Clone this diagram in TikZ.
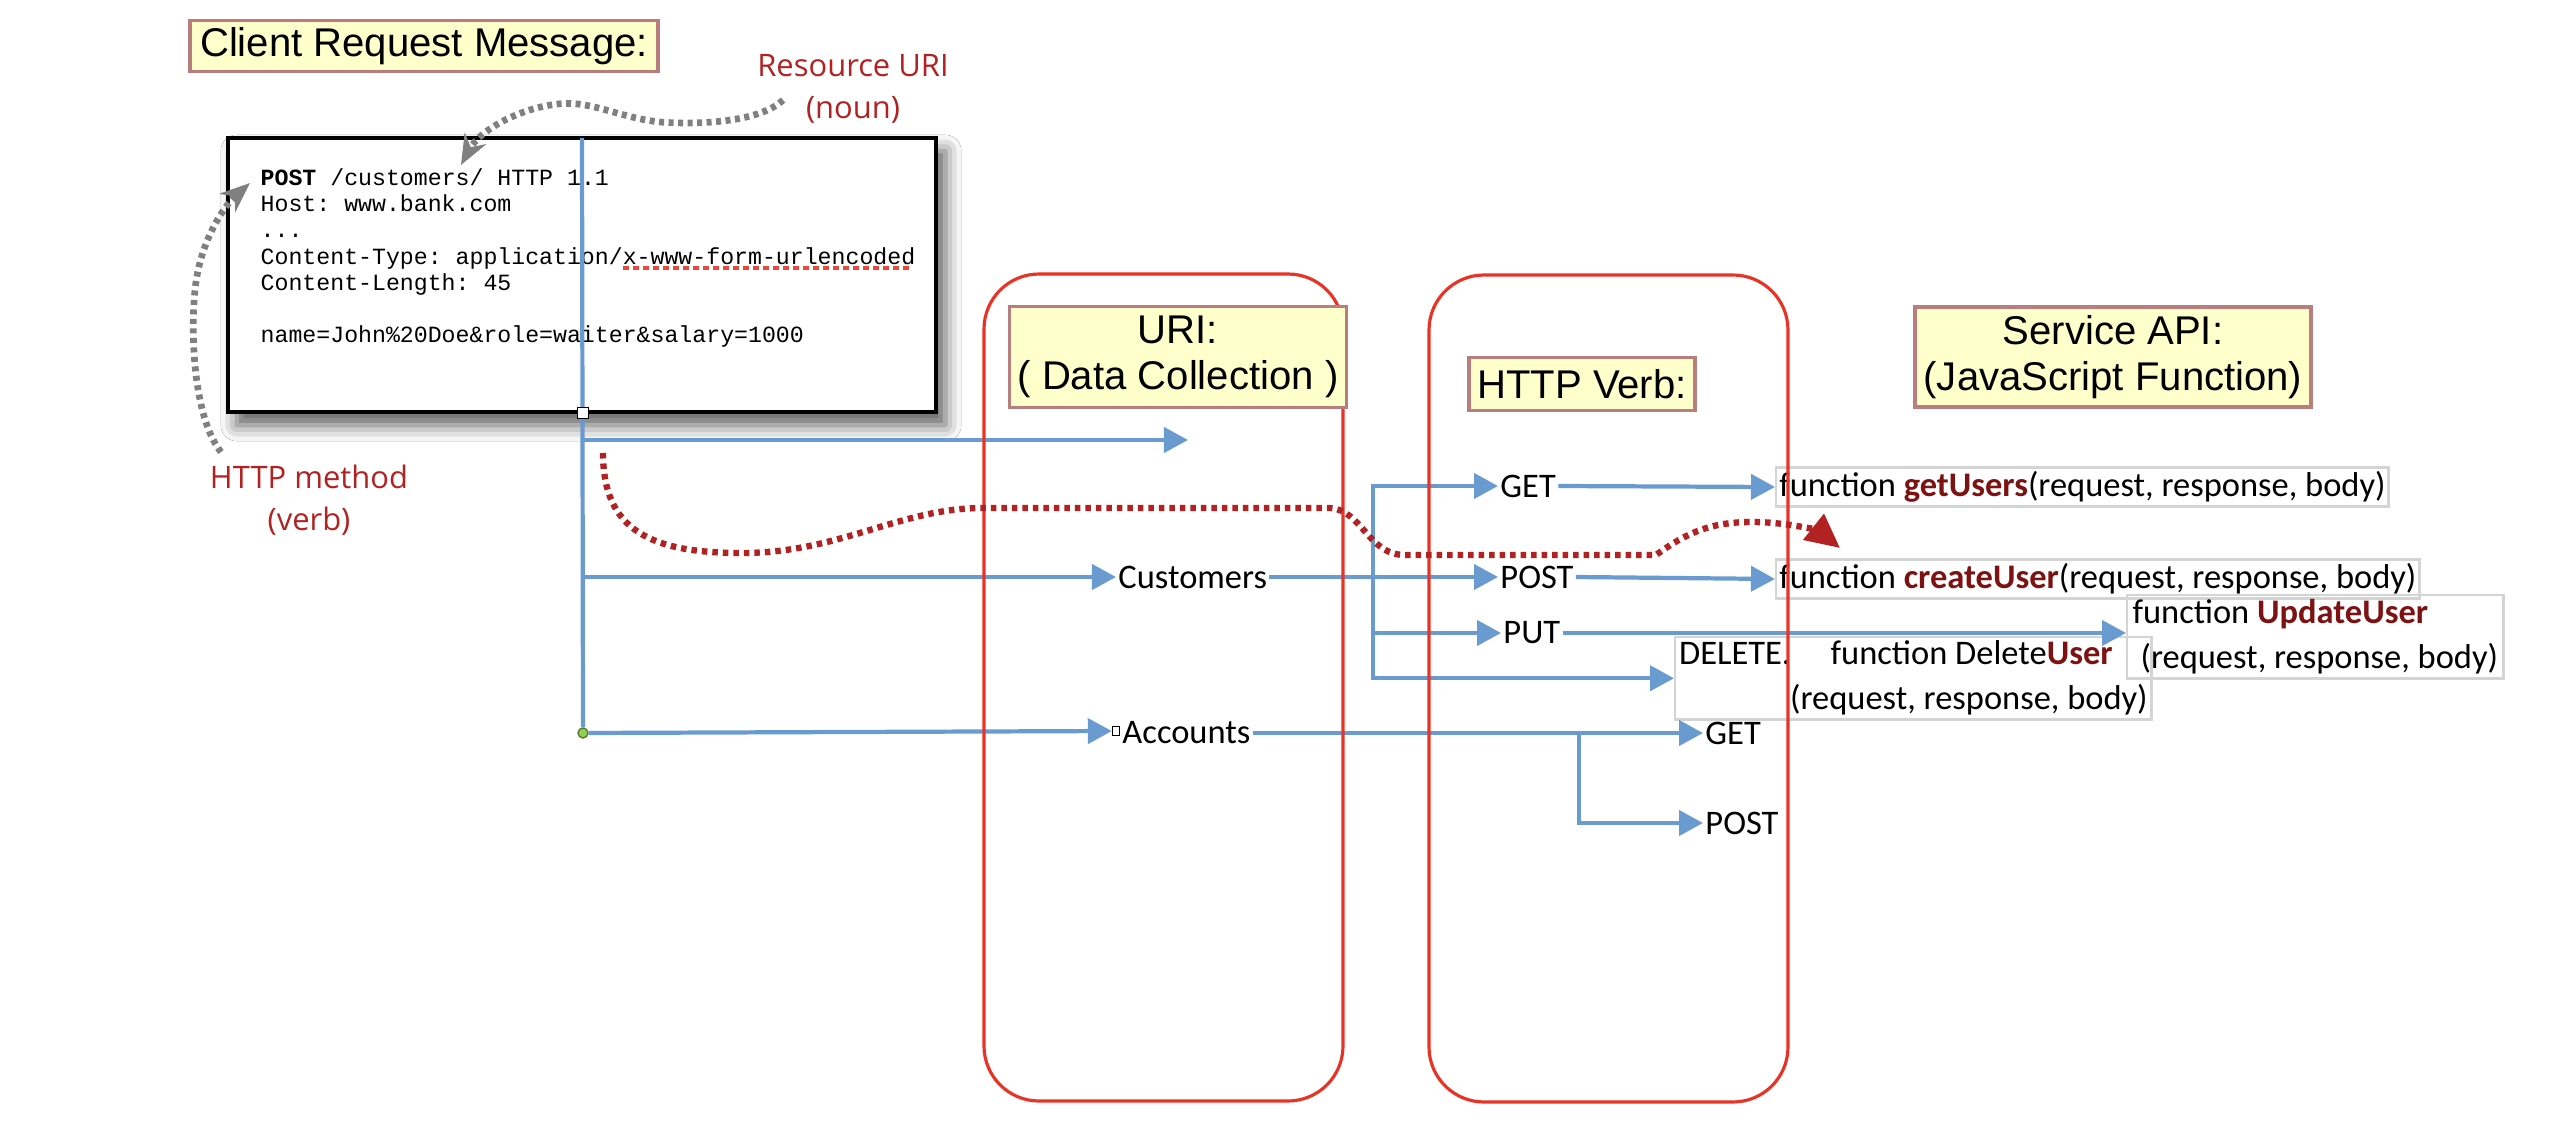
\documentclass[tikz,border=0pt]{standalone}
\usepackage{fontspec}
\setmainfont{Liberation Sans}
\setmonofont{Liberation Mono}
\newfontfamily\calfont{Carlito}
\newfontfamily\notefont{Open Sans}
\usetikzlibrary{arrows.meta,shadows.blur}
\definecolor{flowblue}{RGB}{106,155,208}
\definecolor{zonered}{RGB}{232,52,38}
\definecolor{tagfill}{RGB}{255,255,204}
\definecolor{tagedge}{RGB}{185,125,125}
\definecolor{notered}{RGB}{178,34,34}
\definecolor{fnred}{RGB}{125,18,18}
\definecolor{hintgray}{RGB}{128,128,128}
\definecolor{boxgray}{RGB}{212,212,212}
\definecolor{dotgreen}{RGB}{146,208,80}
\newcommand\fnname[1]{\textbf{\color{fnred}#1}}
\tikzset{
	flowline/.style={draw=flowblue, line width=1.2pt},
	flow/.style={flowline, -{Triangle[length=0.24cm,width=0.25cm]}},
	tag/.style={draw=tagedge, fill=tagfill, line width=1pt, align=center, inner sep=0pt,
			font=\fontsize{11.4}{13.2}\selectfont},
	zone/.style={draw=zonered, line width=0.9pt, rounded corners=0.55cm},
	fnbox/.style={draw=boxgray, line width=0.7pt, inner xsep=0.03cm, inner ysep=0pt,
			anchor=west, font=\calfont\fontsize{9.8}{12.8}\selectfont},
	verb/.style={inner sep=0.5pt, anchor=west, font=\calfont\fontsize{9.8}{12}\selectfont},
	hint/.style={draw=hintgray, line width=1.9pt, dash pattern=on 0.05cm off 0.045cm,
			-{Stealth[length=0.3cm,width=0.24cm]}},
	trail/.style={draw=notered, line width=1.8pt, dash pattern=on 0.055cm off 0.05cm,
			-{Triangle[length=0.34cm,width=0.32cm]}},
	note/.style={text=notered, align=center, font=\notefont\fontsize{8.8}{12}\selectfont}
}
\begin{document}
\begin{tikzpicture}[x=0.01cm,y=-0.01cm]
	\useasboundingbox (0,0) rectangle (2551,1127);
	\fill[white] (0,0) rectangle (2551,1127);
	% request message
	\node[draw, line width=1.1pt, fill=white, minimum width=7.08cm, minimum height=2.74cm,
		blur shadow={shadow xshift=0.09cm, shadow yshift=-0.13cm, shadow blur radius=0.16cm, shadow opacity=65}]
	(req) at (582,275) {};
	\node[anchor=north west, inner sep=0pt, align=left, font=\ttfamily\fontsize{6.6}{7.45}\selectfont]
	(reqtext) at (260,168) {\textbf{POST} /customers/ HTTP 1.1\\Host: www.bank.com\\...\\
		Content-Type: application/x-www-form-urlencoded\\Content-Length: 45\\[7.45pt]
		name=John\%20Doe\&role=waiter\&salary=1000};
	\draw[draw=zonered!90, line width=0.9pt, dash pattern=on 0.06cm off 0.04cm] (623,268) -- (909,268);
	% trunk and branches
	\coordinate (trunk) at (582,138);
	\coordinate (j1) at (582,440);
	\coordinate (j2) at (582,577);
	\coordinate (uriend) at (1188,440);
	\node[circle, fill=dotgreen, draw=dotgreen!60!black, line width=0.4pt, minimum size=0.1cm, inner sep=0pt]
	(trunkend) at (583,733) {};
	\draw[flowline] (trunk) -- (trunkend);
	\node[draw, fill=white, line width=0.5pt, minimum size=0.11cm, inner sep=0pt] (sq1) at (583,413) {};
	\draw[flow] (j1) -- (uriend);
	\node[verb] (cust) at (1116,577) {Customers};
	\draw[flow] (j2) -- (cust.west);
	\node[draw, fill=white, line width=0.4pt, minimum width=0.07cm, minimum height=0.09cm, inner sep=0pt]
	(sq2) at (1116,731) {};
	\node[verb] (acct) at (1120,733) {Accounts};
	\draw[flow] (trunkend) -- (sq2.west);
	% verbs
	\node[verb] (get) at (1498,486) {GET};
	\node[verb] (post) at (1498,577) {POST};
	\node[verb] (put) at (1501,633) {PUT};
	\node[verb] (get2) at (1703,733) {GET};
	\node[verb] (post2) at (1703,823) {POST};
	% service functions
	\node[fnbox, minimum height=0.39cm] (fget) at (1775,487) {function \fnname{getUsers}(request, response, body)};
	\node[fnbox, minimum height=0.39cm] (fcreate) at (1775,579) {function \fnname{createUser}(request, response, body)};
	\node[fnbox, anchor=north west, align=left, minimum width=3.76cm, minimum height=0.83cm]
	(fupd) at (2126,594) {function \fnname{UpdateUser}\\\hspace*{0.08cm}(request, response, body)};
	\node[fnbox, anchor=north west, align=left, inner xsep=0.02cm, minimum width=4.76cm, minimum height=0.82cm]
	(fdel) at (1674,636) {DELETE.\hspace{0.4cm}function Delete\fnname{User}\\\hspace*{1.11cm}(request, response, body)};
	\coordinate (vb) at (1373,577);
	\draw[flow] (vb) |- (get.west);
	\draw[flow] (vb) |- (put.west);
	\draw[flow] (vb) |- (fdel.west);
	\draw[flow] (cust.east) -- (post.west);
	\draw[flow] (get.east) -- (fget.west);
	\draw[flow] (post.east) -- (fcreate.west);
	\draw[flow] (put.east) -- (put.east -| fupd.west);
	\coordinate (ab) at (1579,733);
	\draw[flow] (acct.east) -- (get2.west);
	\draw[flow] (ab) |- (post2.west);
	% columns
	\draw[zone] (984,274) rectangle (1343,1101);
	\draw[zone] (1429,275) rectangle (1788,1102);
	% headings
	\node[tag, minimum width=4.68cm, minimum height=0.51cm] (title) at (424,46) {Client Request Message:};
	\node[tag, minimum width=3.37cm, minimum height=1.01cm] (urilabel) at (1178,357) {URI:\\( Data Collection )};
	\node[tag, minimum width=2.26cm, minimum height=0.53cm] (verblabel) at (1582,384) {HTTP Verb:};
	\node[tag, minimum width=3.96cm, minimum height=1.0cm] (apilabel) at (2113,357) {Service API:\\(JavaScript Function)};
	% annotations
	\node[note] (urinote) at (853,89) {Resource URI\\(noun)};
	\node[note] (verbnote) at (309,500) {HTTP method\\(verb)};
	\draw[hint] (783,100) .. controls (760,122) and (700,125) .. (660,122)
	.. controls (620,118) and (590,100) .. (558,104)
	.. controls (520,108) and (480,130) .. (461,165);
	\draw[hint] (221,452) .. controls (195,420) and (190,340) .. (195,290)
	.. controls (200,240) and (225,205) .. (250,183);
	\draw[trail] (603,453) .. controls (603,530) and (650,553) .. (742,553)
	.. controls (840,553) and (900,508) .. (983,508) -- (1330,508)
	.. controls (1362,510) and (1368,555) .. (1405,555) -- (1656,555)
	.. controls (1690,530) and (1715,522) .. (1752,522)
	.. controls (1790,522) and (1820,532) .. (1840,548);
\end{tikzpicture}
\end{document}
